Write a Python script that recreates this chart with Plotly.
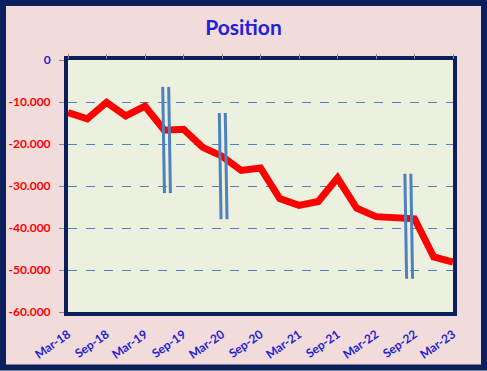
import plotly.graph_objects as go

periods = ["Mar-18", "Jun-18", "Sep-18", "Dec-18", "Mar-19", "Jun-19", "Sep-19", "Dec-19",
           "Mar-20", "Jun-20", "Sep-20", "Dec-20", "Mar-21", "Jun-21", "Sep-21", "Dec-21",
           "Mar-22", "Jun-22", "Sep-22", "Dec-22", "Mar-23"]
position = [-12500, -14000, -10100, -13300, -11000, -16700, -16500, -20800, -22900, -26300,
            -25700, -33000, -34600, -33700, -28100, -35300, -37300, -37700, -37800, -46900, -48100]

y_ticks = [0, -10000, -20000, -30000, -40000, -50000, -60000]

# break markers: (x start index, y top, y bottom) for each double line
break_x = [4.92, 7.86, 17.5]
break_top = [-6400, -12600, -27100]
break_bottom = [-31700, -37900, -52100]
break_gap = 0.31
break_slant = 0.09

RED = "#FF0000"
BLUE_TXT = "#2222D6"
NAVY = "#0B1F5C"
GRID = "#4F81BD"

x_idx = list(range(len(periods)))

fig = go.Figure()
fig.add_trace(go.Scatter(x=x_idx, y=position, mode="lines",
                         line=dict(color=RED, width=7), hoverinfo="skip", showlegend=False))

for bx, bt, bb in zip(break_x, break_top, break_bottom):
    for off in (0, break_gap):
        fig.add_trace(go.Scatter(x=[bx + off, bx + off + break_slant], y=[bt, bb], mode="lines",
                                 line=dict(color=GRID, width=3), hoverinfo="skip", showlegend=False))

def fmt(v):
    return f"{v:,}".replace(",", ".")

ytext = [f"<span style='color:{BLUE_TXT}'>{fmt(v)}</span>" if v == 0 else fmt(v) for v in y_ticks]

tick_idx = x_idx[::2]
tick_lab = periods[::2]

fig.update_layout(
    width=487, height=371,
    margin=dict(l=68, r=34, t=60, b=59),
    paper_bgcolor="#F2DCDB",
    plot_bgcolor="#EBF1DE",
    title=dict(text="<b>Position</b>", x=0.5, xanchor="center", y=0.925, yanchor="middle",
               font=dict(family="Lato", size=21, color=BLUE_TXT)),
    xaxis=dict(range=[0, len(periods) - 1], tickmode="array", tickvals=tick_idx, ticktext=tick_lab,
               tickangle=-35, tickfont=dict(family="Lato", size=12, color=BLUE_TXT, weight="bold"),
               showgrid=False, zeroline=False, showline=True, linecolor=NAVY, linewidth=4,
               mirror=True, ticks="", ticklabelstandoff=7, automargin=False),
    xaxis2=dict(range=[0, len(periods) - 1], tickmode="array", tickvals=tick_idx, overlaying="x",
                side="top", showticklabels=False, ticks="outside", ticklen=5, tickcolor="#888888",
                showgrid=False, zeroline=False, showline=False, automargin=False),
    yaxis=dict(range=[-60000, 0], tickmode="array", tickvals=y_ticks, ticktext=ytext,
               tickfont=dict(family="Lato", size=12, color=RED, weight="bold"),
               showgrid=True, gridcolor=GRID, griddash="dash", gridwidth=1,
               zeroline=False, showline=True, linecolor=NAVY, linewidth=4, mirror=True,
               ticks="outside", ticklen=5, tickcolor="#888888", ticklabelstandoff=6,
               automargin=False),
    shapes=[dict(type="rect", xref="paper", yref="paper",
                 x0=(3 - 68) / 385, x1=(484 - 68) / 385,
                 y0=(312 - 367.5) / 252, y1=(312 - 3) / 252,
                 line=dict(color=NAVY, width=6), fillcolor="rgba(0,0,0,0)", layer="above")],
)
# dummy trace to activate top axis
fig.add_trace(go.Scatter(x=[0], y=[None], xaxis="x2", showlegend=False, hoverinfo="skip"))

fig.write_html("out.html", config={"displayModeBar": False},
               post_script="document.body.style.margin='0px';document.body.style.overflow='hidden';")
